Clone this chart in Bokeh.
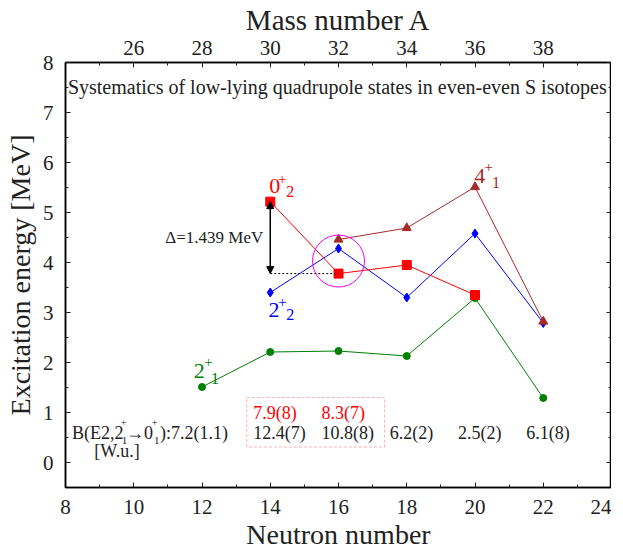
from bokeh.plotting import figure
from bokeh.models import (Range1d, LinearAxis, FixedTicker, Label, Arrow, NormalHead,
                          ColumnDataSource, BoxAnnotation, CustomJSTickFormatter)
from bokeh.core.properties import value
from bokeh.embed import file_html
from bokeh.resources import INLINE

# ---------------- data ----------------
N_21 = [12, 14, 16, 18, 20, 22]
E_21 = [1.51, 2.21, 2.23, 2.13, 3.29, 1.29]
N_22 = [14, 16, 18, 20, 22]
E_22 = [3.40, 4.28, 3.30, 4.58, 2.79]
N_02 = [14, 16, 18, 20]
E_02 = [5.217, 3.778, 3.95, 3.35]
N_41 = [16, 18, 20, 22]
E_41 = [4.46, 4.69, 5.51, 2.82]
N_be2 = [12, 14, 16, 18, 20, 22]
be2 = ["7.2(1.1)", "12.4(7)", "10.8(8)", "6.2(2)", "2.5(2)", "6.1(8)"]
N_be2_alt = [14, 16]
be2_alt = ["7.9(8)", "8.3(7)"]
x_ticks = [8, 10, 12, 14, 16, 18, 20, 22, 24]
y_ticks = [0, 1, 2, 3, 4, 5, 6, 7, 8]
A_ticks = [26, 28, 30, 32, 34, 36, 38]

FONT = "Liberation Serif"
TXT = "#222222"
GREEN, BLUE, RED, BROWN, MAG = "#008000", "#0000ff", "#ff0000", "#a52a2a", "#ff00ff"

FW, FH = 546, 425
p = figure(frame_width=FW, frame_height=FH, x_range=Range1d(8, 24), y_range=Range1d(-0.5, 8),
           output_backend="svg", toolbar_location=None,
           min_border_left=65, min_border_right=0, min_border_top=54, min_border_bottom=63)
p.xgrid.visible = False
p.ygrid.visible = False
p.outline_line_color = "black"
p.outline_line_width = 1.5
p.background_fill_color = "white"

bottom = p.below[0]
left = p.left[0]
bottom.ticker = FixedTicker(ticks=x_ticks, minor_ticks=list(range(9, 24, 2)))
left.ticker = FixedTicker(ticks=y_ticks, minor_ticks=[i + 0.5 for i in range(0, 8)])
bottom.axis_label = "Neutron number"
left.axis_label = "Excitation energy [MeV]"

p.extra_x_ranges = {"A": Range1d(24, 40)}
top = LinearAxis(x_range_name="A", axis_label="Mass number A",
                 ticker=FixedTicker(ticks=A_ticks, minor_ticks=list(range(24, 41))))
p.add_layout(top, "above")
right = LinearAxis(ticker=FixedTicker(ticks=y_ticks, minor_ticks=[i + 0.5 for i in range(0, 8)]),
                   formatter=CustomJSTickFormatter(code="return ''"))
p.add_layout(right, "right")

for ax in [bottom, left, top, right]:
    ax.major_tick_in = 5
    ax.major_tick_out = 0
    ax.minor_tick_in = 3
    ax.minor_tick_out = 0
    ax.axis_line_color = "black"
    ax.axis_line_width = 1.5
    ax.major_tick_line_color = "#222222"
    ax.minor_tick_line_color = "#222222"
    ax.major_label_text_font = FONT
    ax.major_label_text_font_size = "21px"
    ax.major_label_text_color = TXT
    ax.major_label_standoff = 12
    ax.axis_label_text_font = FONT
    ax.axis_label_text_font_style = "normal"
    ax.axis_label_text_color = TXT
    ax.axis_label_standoff = 4
left.axis_label_text_font_size = "28px"
bottom.axis_label_text_font_size = "28px"
top.axis_label_text_font_size = "29px"
bottom.major_label_text_line_height = 1.0
bottom.axis_label_text_line_height = 1.0
bottom.major_label_standoff = 12
bottom.axis_label_standoff = 2
right.major_label_standoff = 0
right.axis_label_standoff = 0
top.major_label_standoff = 8
top.axis_label_standoff = 2

# ---------------- series ----------------
p.line(N_21, E_21, color=GREEN, line_width=1)
p.scatter(N_21, E_21, marker="circle", size=7, color=GREEN)
p.line(N_22, E_22, color=BLUE, line_width=1)
p.scatter(N_22, E_22, marker="diamond", size=9, color=BLUE)
p.line(N_02, E_02, color=RED, line_width=1)
p.scatter(N_02, E_02, marker="square", size=9, color=RED)
p.line(N_41, E_41, color=BROWN, line_width=1)
p.scatter(N_41, E_41, marker="triangle", size=9, color=BROWN)

PX, PY = FW / 16.0, FH / 8.5   # screen pixels per data unit


def lab(x, y, dx, dy, text, color, size, align="center", baseline="middle"):
    p.add_layout(Label(x=x + dx / PX, y=y + dy / PY, text=text, text_color=color,
                       text_font=FONT, text_font_size=size, text_align=align,
                       text_baseline=baseline))


def state(x, y, main, sub, color, d_main, d_sup, d_sub):
    lab(x, y, d_main[0], d_main[1], main, color, "22px")
    lab(x, y, d_sup[0], d_sup[1], "+", color, "15px")
    lab(x, y, d_sub[0], d_sub[1], sub, color, "16px")


state(N_02[0], E_02[0], "0", "2", RED, (4.5, 15.6), (12, 22.8), (20, 10))
state(N_22[0], E_22[0], "2", "2", BLUE, (3.8, -17), (12.3, -9), (20, -21.5))
state(N_21[0], E_21[0], "2", "1", GREEN, (-2.7, 16.5), (6.5, 25), (13, 9))
state(N_41[2], E_41[2], "4", "1", BROWN, (4.7, 10.7), (13.7, 19.8), (21, 4.8))

# title inside the frame
p.add_layout(Label(x=8.07, y=7.52, text="Systematics of low-lying quadrupole states in even-even S isotopes",
                   text_color=TXT, text_font=FONT, text_font_size="20px", text_align="left",
                   text_baseline="middle"))

# Delta annotation
delta = E_02[0] - E_02[1]
p.add_layout(Arrow(x_start=N_02[0], y_start=E_02[1], x_end=N_02[0], y_end=E_02[0],
                   start=NormalHead(size=7, fill_color="black", line_color="black"),
                   end=NormalHead(size=7, fill_color="black", line_color="black"),
                   line_color="black", line_width=1.5))
p.line([N_02[0], N_02[1]], [E_02[1], E_02[1]], color="black", line_dash="2 2", line_width=1)
lab(N_02[0], (E_02[0] + E_02[1]) / 2, -7, 0, "\u0394=%.3f MeV" % delta, TXT, "17px", align="right")

# magenta circle highlighting the crossing
p.scatter([N_22[1]], [(E_22[1] + E_02[1]) / 2], marker="circle", size=52,
          fill_color=None, line_color=MAG, line_width=1)

# B(E2) values
y_be2 = 0.6
src = ColumnDataSource(dict(x=[n - 0.5 for n in N_be2[1:]], y=[y_be2] * (len(N_be2) - 1), t=be2[1:]))
p.text("x", "y", text="t", source=src, text_font=value(FONT), text_font_size="18px",
       text_color=TXT, text_align="left", text_baseline="middle")
src2 = ColumnDataSource(dict(x=[n - 0.5 for n in N_be2_alt], y=[1.0] * len(N_be2_alt), t=be2_alt))
p.text("x", "y", text="t", source=src2, text_font=value(FONT), text_font_size="18px",
       text_color=RED, text_align="left", text_baseline="middle")
p.add_layout(BoxAnnotation(left=13.31, right=17.35, bottom=0.31, top=1.30, fill_alpha=0,
                           line_color=RED, line_dash="3 2", line_width=1))

x0 = N_be2[0]
lab(x0, y_be2, -130, 0, "B(E2,2", TXT, "18px", align="left")
lab(x0, y_be2, -78.5, 10, "+", TXT, "11px")
lab(x0, y_be2, -77.5, -8, "1", TXT, "11px")
lab(x0, y_be2, -76, 0, "\u21920", TXT, "18px", align="left")
lab(x0, y_be2, -47.3, 10, "+", TXT, "11px")
lab(x0, y_be2, -45.3, -8, "1", TXT, "11px")
lab(x0, y_be2, -42, 0, "):" + be2[0], TXT, "18px", align="left")
lab(x0, y_be2, -85, -18, "[W.u.]", TXT, "18px")

open("out.html", "w").write(file_html(p, INLINE))
